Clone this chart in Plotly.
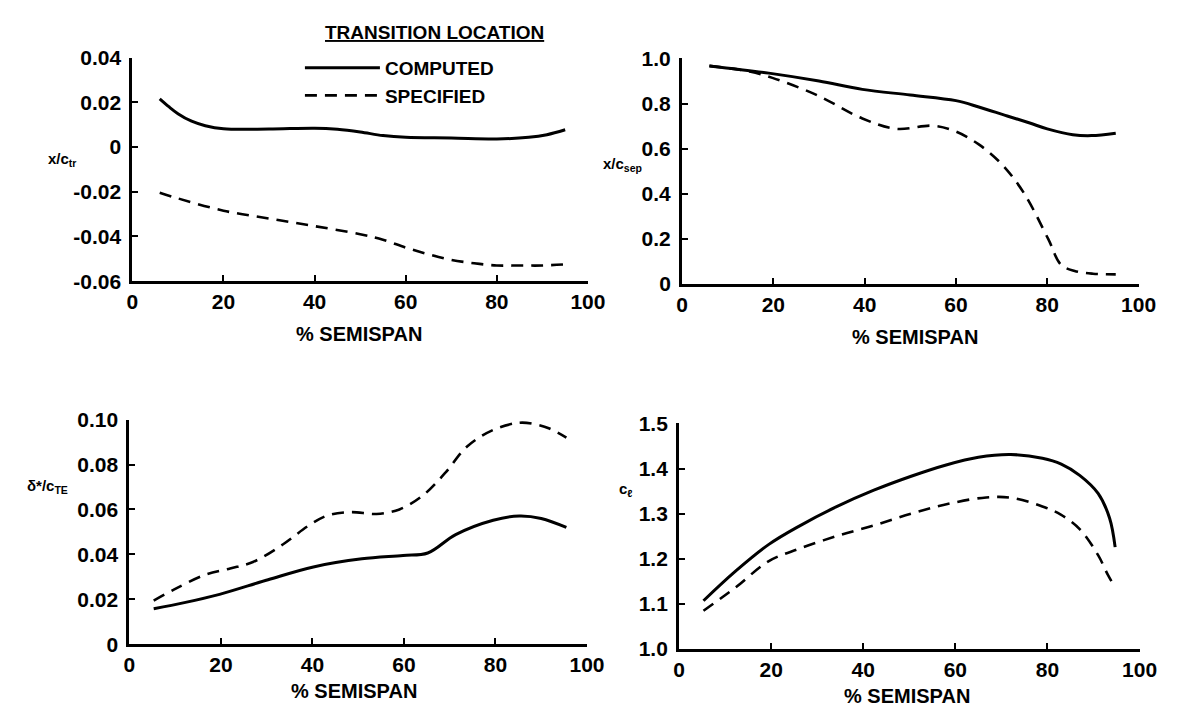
import plotly.graph_objects as go

# ---------------- data ----------------
# Panel 1: x/c transition
tr_comp_x = [6, 8, 10, 13, 16, 20, 30, 40, 45, 50, 55, 60, 70, 80, 87, 91, 95]
tr_comp_y = [0.0215, 0.018, 0.0149, 0.0115, 0.0095, 0.0081, 0.008, 0.0084, 0.0079, 0.0067, 0.0051,
             0.0043, 0.004, 0.0036, 0.0043, 0.0055, 0.0077]
tr_spec_x = [6, 10, 20, 30, 40, 50, 55, 60, 65, 70, 75, 80, 85, 90, 95]
tr_spec_y = [-0.0205, -0.023, -0.0285, -0.032, -0.0354, -0.039, -0.0415, -0.045, -0.048,
             -0.0505, -0.052, -0.053, -0.053, -0.053, -0.0525]

# Panel 2: x/c separation
sep_comp_x = [6, 19, 30, 39.5, 50, 60, 65, 70.8, 76, 80, 85.6, 89.7, 95]
sep_comp_y = [0.967, 0.935, 0.90, 0.863, 0.838, 0.813, 0.785, 0.748, 0.715, 0.688, 0.662, 0.658, 0.669]
sep_spec_x = [6, 14.8, 19.8, 29.6, 39.5, 46.9, 55, 60, 65, 70, 74.9, 80.2, 83, 86, 90, 95]
sep_spec_y = [0.967, 0.942, 0.914, 0.837, 0.734, 0.688, 0.702, 0.676, 0.619, 0.532, 0.403, 0.20,
              0.086, 0.058, 0.046, 0.043]

# Panel 3: delta*/c at trailing edge
te_comp_x = [5.3, 12, 19.7, 30.3, 40.2, 50.8, 59.8, 65.2, 71.3, 79.5, 85.2, 90, 95.5]
te_comp_y = [0.0158, 0.0185, 0.0222, 0.0287, 0.0344, 0.038, 0.0395, 0.0406, 0.0488, 0.0552,
             0.0571, 0.056, 0.052]
te_spec_x = [5.3, 9.8, 16.4, 22, 27, 33.6, 39.3, 43.4, 48.4, 54, 59, 64, 68.9, 73.8, 79.5,
             85.2, 88.5, 91.8, 95.5]
te_spec_y = [0.0194, 0.0244, 0.0308, 0.0337, 0.0366, 0.0445, 0.053, 0.0574, 0.0588, 0.058,
             0.060, 0.066, 0.076, 0.088, 0.0954, 0.0986, 0.098, 0.096, 0.092]

# Panel 4: section lift coefficient
cl_comp_x = [5.3, 12.2, 19.5, 26, 34.1, 42.3, 50.4, 58, 65, 72, 78.9, 83, 87, 91, 93.5, 94.7]
cl_comp_y = [1.107, 1.172, 1.232, 1.272, 1.315, 1.352, 1.383, 1.408, 1.425, 1.431, 1.423, 1.41,
             1.385, 1.345, 1.29, 1.226]
cl_spec_x = [5.3, 12.2, 19.5, 26, 34.1, 42.3, 50.4, 58.5, 66.7, 72.4, 78.9, 82.9, 87, 91, 93.1, 94.7]
cl_spec_y = [1.085, 1.136, 1.195, 1.222, 1.250, 1.274, 1.300, 1.322, 1.336, 1.335, 1.316, 1.298,
             1.266, 1.208, 1.165, 1.136]

x_ticks = [0, 20, 40, 60, 80, 100]
x_ticktext = ["0", "20", "40", "60", "80", "100"]
tr_ticks = [0.04, 0.02, 0, -0.02, -0.04, -0.06]
tr_ticktext = ["0.04", "0.02", "0", "-0.02", "-0.04", "-0.06"]
sep_ticks = [1.0, 0.8, 0.6, 0.4, 0.2, 0]
sep_ticktext = ["1.0", "0.8", "0.6", "0.4", "0.2", "0"]
te_ticks = [0.10, 0.08, 0.06, 0.04, 0.02, 0]
te_ticktext = ["0.10", "0.08", "0.06", "0.04", "0.02", "0"]
cl_ticks = [1.5, 1.4, 1.3, 1.2, 1.1, 1.0]
cl_ticktext = ["1.5", "1.4", "1.3", "1.2", "1.1", "1.0"]

series_names = ["COMPUTED", "SPECIFIED"]
legend_title = "TRANSITION LOCATION"
x_title = "% SEMISPAN"
y_titles = ["x/c<sub>tr</sub>", "x/c<sub>sep</sub>", "δ*/c<sub>TE</sub>", "c<sub>ℓ</sub>"]

# ---------------- figure ----------------
W, H = 1184, 722
FONT = "Liberation Sans"


def px(x):
    return x / W


def py(y):
    return 1 - y / H


def dx(a, b):
    return [px(a), px(b)]


def dy(top, bottom):
    return [py(bottom), py(top)]


fig = go.Figure()

panels = [
    (tr_comp_x, tr_comp_y, tr_spec_x, tr_spec_y),
    (sep_comp_x, sep_comp_y, sep_spec_x, sep_spec_y),
    (te_comp_x, te_comp_y, te_spec_x, te_spec_y),
    (cl_comp_x, cl_comp_y, cl_spec_x, cl_spec_y),
]
for i, (cx, cy, sx, sy) in enumerate(panels):
    xa = "x" if i == 0 else f"x{i+1}"
    ya = "y" if i == 0 else f"y{i+1}"
    fig.add_trace(go.Scatter(x=cx, y=cy, mode="lines", name=series_names[0],
                             line=dict(color="black", width=3, shape="spline", smoothing=1.0),
                             xaxis=xa, yaxis=ya, showlegend=(i == 0)))
    fig.add_trace(go.Scatter(x=sx, y=sy, mode="lines", name=series_names[1],
                             line=dict(color="black", width=2.6, dash="12px,8px", shape="spline",
                                       smoothing=1.0),
                             xaxis=xa, yaxis=ya, showlegend=(i == 0)))

common = dict(showline=True, linecolor="black", linewidth=3, ticks="inside", ticklen=6,
              tickwidth=2, tickcolor="black", showgrid=False, zeroline=False,
              tickfont=dict(family=FONT, size=21, color="black", weight="bold"))

layouts = [
    # x domain px, y domain px (top,bottom), y range, ticks
    ((129, 594), (47, 278), [-0.06, 0.04], tr_ticks, tr_ticktext),
    ((690, 1156), (48, 281), [0, 1.0], sep_ticks, sep_ticktext),
    ((126, 593), (421, 653), [0, 0.10], te_ticks, te_ticktext),
    ((687, 1157), (425, 658), [1.0, 1.5], cl_ticks, cl_ticktext),
]
lay = {}
for i, (xd, yd, yr, yt, ytt) in enumerate(layouts):
    sfx = "" if i == 0 else str(i + 1)
    lay["xaxis" + sfx] = dict(domain=dx(*xd), range=[0, 100], tickvals=x_ticks, ticktext=x_ticktext,
                              anchor="y" + sfx, ticklabelstandoff=0, **common)
    lay["yaxis" + sfx] = dict(domain=dy(*yd), range=yr, tickvals=yt, ticktext=ytt,
                              anchor="x" + sfx, ticklabelstandoff=4, **common)

annotations = []
# x-axis titles
for (cx, cy) in [(360, 333), (928, 336), (355, 701), (920, 706)]:
    annotations.append(dict(text=x_title, x=px(cx), y=py(cy), xref="paper", yref="paper",
                            showarrow=False, xanchor="center", yanchor="middle",
                            font=dict(family=FONT, size=20, color="black", weight="bold")))
# y-axis titles
for txt, (cx, cy) in zip(y_titles, [(57, 152), (629, 158), (42, 490), (632, 493)]):
    annotations.append(dict(text=txt, x=px(cx), y=py(cy), xref="paper", yref="paper",
                            showarrow=False, xanchor="center", yanchor="middle",
                            font=dict(family=FONT, size=15, color="black", weight="bold")))
# legend heading
annotations.append(dict(text="<u>" + legend_title + "</u>", x=px(437), y=py(21),
                        xref="paper", yref="paper", showarrow=False, xanchor="center",
                        yanchor="middle",
                        font=dict(family=FONT, size=19, color="black", weight="bold")))

fig.update_layout(
    width=W, height=H, margin=dict(l=0, r=0, t=0, b=0),
    paper_bgcolor="white", plot_bgcolor="white",
    showlegend=True,
    legend=dict(x=px(300), y=py(38), xanchor="left", yanchor="top",
                bgcolor="rgba(0,0,0,0)", itemwidth=75, tracegroupgap=0,
                font=dict(family=FONT, size=19, color="black", weight="bold")),
    annotations=annotations,
    **lay,
)

fig.write_html("out.html")
